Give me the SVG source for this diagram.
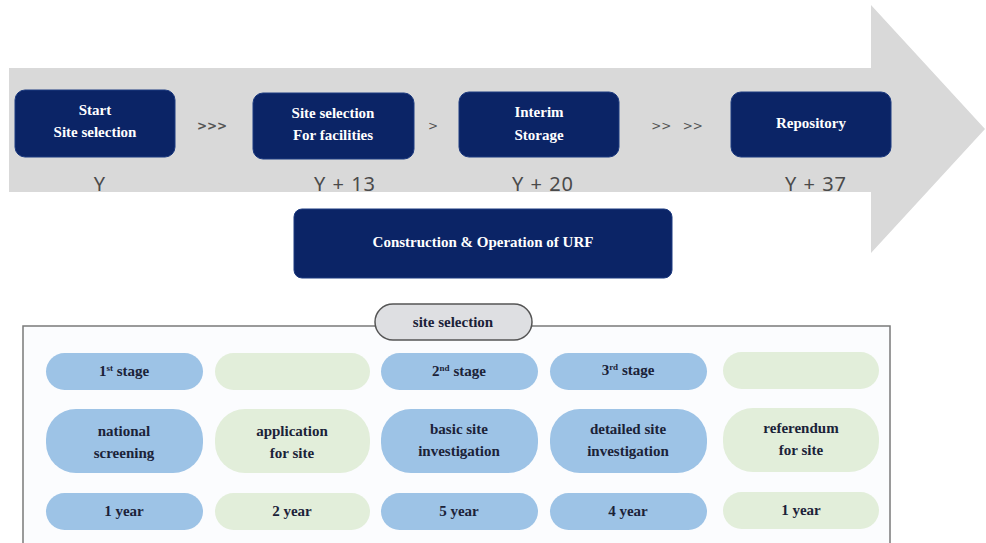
<svg xmlns="http://www.w3.org/2000/svg" width="986" height="543" viewBox="0 0 986 543">
<defs>
<style>
.box{fill:#0b2466;stroke:#1c3a80;stroke-width:1}
.bt{font-family:'Liberation Serif','Times New Roman','DejaVu Serif',serif;font-weight:bold;font-size:15px;fill:#ffffff;text-anchor:middle}
.yl{font-family:'Noto Sans','DejaVu Sans',sans-serif;font-size:20px;fill:#4a4a4a;text-anchor:middle;letter-spacing:1px}
.sep{font-family:'DejaVu Sans',sans-serif;font-size:12px;fill:#555;text-anchor:middle}
.blue{fill:#9dc3e6}
.green{fill:#e2eeda}
.pt{font-family:'Liberation Serif','Times New Roman','DejaVu Serif',serif;font-weight:bold;font-size:15px;fill:#1b2238;text-anchor:middle}
.sup{font-size:9px}
</style>
</defs>
<rect width="986" height="543" fill="#ffffff"/>
<g id="timeline-arrow">
<polygon points="9,68 871,68 871,5 985,129 871,253 871,192 9,192" fill="#d9d9d9"/>
</g>
<g id="connectors">
<text class="sep" x="212" y="130" font-weight="bold">&gt;&gt;&gt;</text>
<text class="sep" x="433" y="130">&gt;</text>
<text class="sep" x="677" y="130" xml:space="preserve">&gt;&gt;   &gt;&gt;</text>
</g>
<g id="start">
<rect class="box" x="15" y="90" width="160" height="67" rx="10"/>
<text class="bt" x="95" y="115">Start</text>
<text class="bt" x="95" y="137">Site selection</text>
<text class="yl" x="100" y="191">Y</text>
</g>
<g id="site-selection-facilities">
<rect class="box" x="253" y="93" width="161" height="66" rx="10"/>
<text class="bt" x="333" y="118">Site selection</text>
<text class="bt" x="333" y="140">For facilities</text>
<text class="yl" x="345" y="191">Y + 13</text>
</g>
<g id="interim-storage">
<rect class="box" x="459" y="92" width="160" height="65" rx="10"/>
<text class="bt" x="539" y="117">Interim</text>
<text class="bt" x="539" y="140">Storage</text>
<text class="yl" x="543" y="191">Y + 20</text>
</g>
<g id="repository">
<rect class="box" x="731" y="92" width="160" height="65" rx="10"/>
<text class="bt" x="811" y="128">Repository</text>
<text class="yl" x="816" y="191">Y + 37</text>
</g>
<g id="construction-urf">
<rect class="box" x="294" y="209" width="378" height="69" rx="8"/>
<text class="bt" x="483" y="247">Construction &amp; Operation of URF</text>
</g>
<g id="site-selection-panel">
<rect x="23" y="326" width="867" height="220" fill="#fbfcfe" stroke="#7a7a7a" stroke-width="1.5"/>
<rect x="375" y="304" width="157" height="36" rx="18" fill="#dedfe2" stroke="#555" stroke-width="1.5"/>
<text class="pt" x="453" y="327">site selection</text>
</g>
<g id="col1">
<rect class="blue" x="46" y="353" width="157" height="37" rx="18.5"/>
<text class="pt" x="124" y="376">1<tspan class="sup" dy="-5">st</tspan><tspan dy="5"> stage</tspan></text>
<rect class="blue" x="46" y="409" width="157" height="64" rx="30"/>
<text class="pt" x="124" y="436">national</text>
<text class="pt" x="124" y="458">screening</text>
<rect class="blue" x="46" y="493" width="157" height="37" rx="18.5"/>
<text class="pt" x="124" y="516">1 year</text>
</g>
<g id="col2">
<rect class="green" x="215" y="353" width="155" height="37" rx="18.5"/>
<rect class="green" x="215" y="409" width="155" height="64" rx="30"/>
<text class="pt" x="292" y="436">application</text>
<text class="pt" x="292" y="458">for site</text>
<rect class="green" x="215" y="493" width="155" height="37" rx="18.5"/>
<text class="pt" x="292" y="516">2 year</text>
</g>
<g id="col3">
<rect class="blue" x="381" y="353" width="157" height="37" rx="18.5"/>
<text class="pt" x="459" y="376">2<tspan class="sup" dy="-5">nd</tspan><tspan dy="5"> stage</tspan></text>
<rect class="blue" x="381" y="409" width="157" height="64" rx="30"/>
<text class="pt" x="459" y="434">basic site</text>
<text class="pt" x="459" y="456">investigation</text>
<rect class="blue" x="381" y="493" width="157" height="37" rx="18.5"/>
<text class="pt" x="459" y="516">5 year</text>
</g>
<g id="col4">
<rect class="blue" x="550" y="353" width="157" height="37" rx="18.5"/>
<text class="pt" x="628" y="375">3<tspan class="sup" dy="-5">rd</tspan><tspan dy="5"> stage</tspan></text>
<rect class="blue" x="550" y="409" width="157" height="64" rx="30"/>
<text class="pt" x="628" y="434">detailed site</text>
<text class="pt" x="628" y="456">investigation</text>
<rect class="blue" x="550" y="493" width="157" height="37" rx="18.5"/>
<text class="pt" x="628" y="516">4 year</text>
</g>
<g id="col5">
<rect class="green" x="723" y="352" width="156" height="37" rx="18.5"/>
<rect class="green" x="723" y="408" width="156" height="64" rx="30"/>
<text class="pt" x="801" y="433">referendum</text>
<text class="pt" x="801" y="455">for site</text>
<rect class="green" x="723" y="492" width="156" height="37" rx="18.5"/>
<text class="pt" x="801" y="515">1 year</text>
</g>
</svg>
